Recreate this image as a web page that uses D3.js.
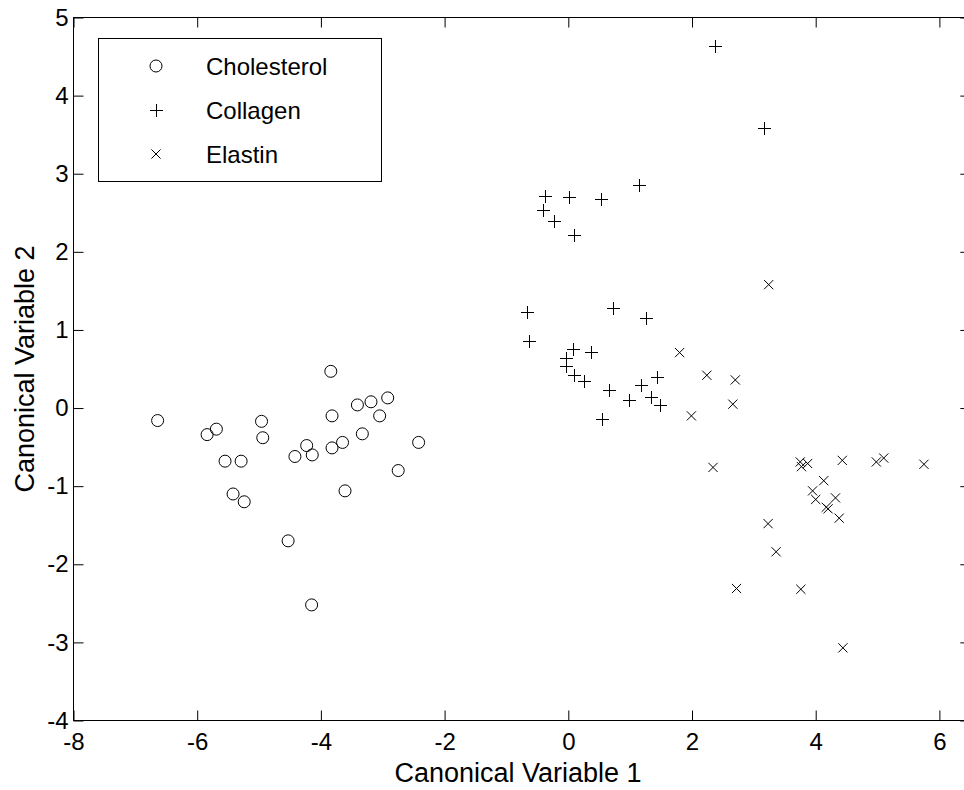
<!DOCTYPE html>
<html>
<head>
<meta charset="utf-8">
<script src="https://cdn.jsdelivr.net/npm/d3@7"></script>
<style>
  body { margin: 0; background: #fff; }
  svg { display: block; font-family: Arial, "Liberation Sans", sans-serif; }
</style>
</head>
<body>
<svg id="chart" width="964" height="790"></svg>
<script>
// group names, in legend order
var groups = ['Cholesterol', 'Collagen', 'Elastin']

// canonical variable scores: [cv1, cv2]
var cholesterol = [
  [-6.64, -0.16], [-5.84, -0.34], [-5.69, -0.27], [-5.55, -0.68], [-5.29, -0.68],
  [-5.42, -1.10], [-5.24, -1.20], [-4.96, -0.17], [-4.94, -0.38], [-4.53, -1.70],
  [-4.15, -2.52], [-4.42, -0.62], [-4.23, -0.48], [-4.14, -0.60], [-3.84, 0.47],
  [-3.82, -0.10], [-3.82, -0.51], [-3.65, -0.44], [-3.61, -1.06], [-3.41, 0.04],
  [-3.33, -0.33], [-3.19, 0.08], [-3.05, -0.10], [-2.92, 0.13], [-2.75, -0.80],
  [-2.42, -0.44]
]
var collagen = [
  [2.37, 4.63], [3.17, 3.58], [1.14, 2.86], [-0.37, 2.72], [0.01, 2.70],
  [0.53, 2.68], [-0.41, 2.53], [-0.23, 2.39], [0.10, 2.22], [-0.66, 1.23],
  [-0.63, 0.86], [0.73, 1.28], [1.25, 1.15], [0.07, 0.76], [0.37, 0.72],
  [-0.03, 0.64], [-0.03, 0.54], [0.09, 0.42], [0.25, 0.34], [0.66, 0.23],
  [0.98, 0.10], [1.17, 0.30], [1.33, 0.14], [1.44, 0.40], [1.49, 0.04],
  [0.54, -0.14]
]
var elastin = [
  [3.24, 1.58], [1.80, 0.71], [2.24, 0.42], [2.70, 0.36], [2.66, 0.05],
  [1.99, -0.10], [2.34, -0.76], [3.75, -0.69], [3.77, -0.75], [3.87, -0.71],
  [4.43, -0.67], [4.98, -0.69], [5.10, -0.64], [5.75, -0.72], [4.13, -0.93],
  [3.95, -1.06], [4.00, -1.17], [4.32, -1.15], [4.17, -1.27], [4.20, -1.29],
  [4.38, -1.41], [3.23, -1.48], [3.36, -1.84], [2.72, -2.31], [3.76, -2.32],
  [4.44, -3.07]
]

var xTicks = [-8, -6, -4, -2, 0, 2, 4, 6]
var yTicks = [-4, -3, -2, -1, 0, 1, 2, 3, 4, 5]

;(function() {
  var svg = d3.select('#chart')
  var mLeft = 73.5, mTop = 17.5, mBottom = 720.5
  var pxPerX = 61.85
  var x = d3.scaleLinear().domain([-8, 6.5]).range([mLeft, mLeft + 14.5 * pxPerX])
  var y = d3.scaleLinear().domain([-4, 5]).range([mBottom, mTop])
  var mRight = x(6.5)
  var fmt = function(d) { return String(d) }

  // axes box
  svg.append('rect')
    .attr('x', mLeft).attr('y', mTop)
    .attr('width', mRight - mLeft).attr('height', mBottom - mTop)
    .attr('fill', 'none').attr('stroke', '#000').attr('stroke-width', 1)

  function styleAxis(g) {
    g.select('.domain').remove()
    g.selectAll('.tick line').attr('stroke', '#000')
    g.selectAll('.tick text').attr('fill', '#000').attr('font-size', 24)
  }

  svg.append('g')
    .attr('transform', 'translate(0,' + mBottom + ')')
    .call(d3.axisBottom(x).tickValues(xTicks).tickSizeInner(-10).tickSizeOuter(0).tickPadding(12).tickFormat(fmt))
    .call(styleAxis)
  svg.append('g')
    .attr('transform', 'translate(0,' + mTop + ')')
    .call(d3.axisTop(x).tickValues(xTicks).tickSizeInner(-10).tickSizeOuter(0).tickFormat(''))
    .call(styleAxis)
  svg.append('g')
    .attr('transform', 'translate(' + mLeft + ',0)')
    .call(d3.axisLeft(y).tickValues(yTicks).tickSizeInner(-10).tickSizeOuter(0).tickPadding(5).tickFormat(fmt))
    .call(styleAxis)
  svg.append('g')
    .attr('transform', 'translate(' + mRight + ',0)')
    .call(d3.axisRight(y).tickValues(yTicks).tickSizeInner(-10).tickSizeOuter(0).tickFormat(''))
    .call(styleAxis)

  // axis titles
  svg.append('text')
    .attr('x', 518).attr('y', 782)
    .attr('text-anchor', 'middle').attr('font-size', 27)
    .text('Canonical Variable 1')
  svg.append('text')
    .attr('transform', 'translate(34,' + (mTop + mBottom) / 2 + ') rotate(-90)')
    .attr('text-anchor', 'middle').attr('font-size', 27)
    .text('Canonical Variable 2')

  // marker drawers
  function drawCircle(g, cx, cy) {
    g.append('circle').attr('cx', cx).attr('cy', cy).attr('r', 6)
      .attr('fill', 'none').attr('stroke', '#000').attr('stroke-width', 1)
  }
  function drawPlus(g, cx, cy) {
    var s = 6.5
    cx = Math.round(cx) + 0.5; cy = Math.round(cy) + 0.5
    g.append('path').attr('d', 'M' + (cx - s) + ',' + cy + 'H' + (cx + s) + 'M' + cx + ',' + (cy - s) + 'V' + (cy + s))
      .attr('stroke', '#000').attr('stroke-width', 1).attr('fill', 'none')
  }
  function drawCross(g, cx, cy) {
    var s = 4.6
    g.append('path').attr('d', 'M' + (cx - s) + ',' + (cy - s) + 'L' + (cx + s) + ',' + (cy + s) +
        'M' + (cx - s) + ',' + (cy + s) + 'L' + (cx + s) + ',' + (cy - s))
      .attr('stroke', '#000').attr('stroke-width', 1).attr('fill', 'none')
  }
  var drawers = [drawCircle, drawPlus, drawCross]
  var series = [cholesterol, collagen, elastin]

  var marks = svg.append('g')
  series.forEach(function(data, i) {
    var g = marks.append('g').attr('class', 'group-' + i)
    data.forEach(function(d) {
      drawers[i](g, x(d[0]), y(d[1]))
    })
  })

  // legend
  var lg = svg.append('g')
  lg.append('rect')
    .attr('x', 98.5).attr('y', 38.5).attr('width', 283).attr('height', 143)
    .attr('fill', '#fff').attr('stroke', '#000').attr('stroke-width', 1)
  groups.forEach(function(name, i) {
    var ry = 66 + i * 44
    drawers[i](lg, 156, ry)
    lg.append('text').attr('x', 206).attr('y', ry + 8.5)
      .attr('font-size', 24).text(name)
  })
})()
</script>
</body>
</html>
